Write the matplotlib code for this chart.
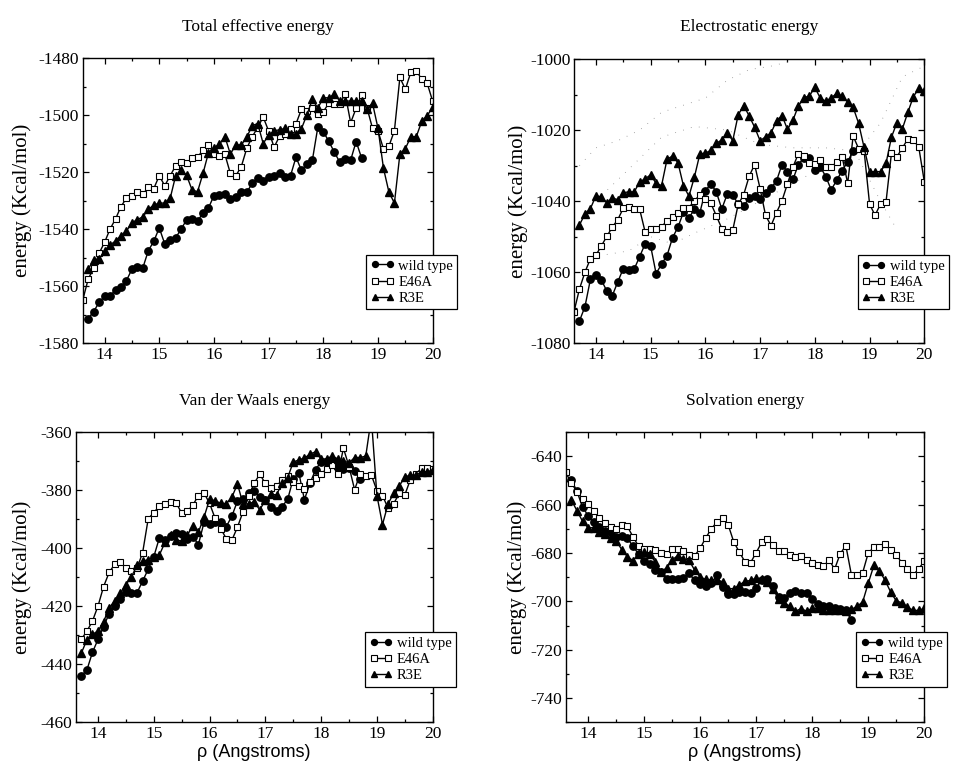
import numpy as np
import matplotlib
matplotlib.use("Agg")
import matplotlib.pyplot as plt
from matplotlib.ticker import MultipleLocator

plt.rcParams['font.family'] = ['Liberation Serif', 'DejaVu Serif']
plt.rcParams['axes.unicode_minus'] = False

# rho grids (Angstroms)
rho_wt = np.arange(137, 188) / 10.0      # 13.7 .. 18.7
rho_mut = np.arange(137, 201) / 10.0     # 13.7 .. 20.0
rho_e46a = np.arange(136, 201) / 10.0    # 13.6 .. 20.0

# Total effective energy
tot_wt = [-1571.3, -1568.9, -1565.6, -1563.5, -1563.3, -1561.4, -1560.2, -1558.0, -1554.0, -1553.3,
          -1553.5, -1547.5, -1544.2, -1539.5, -1545.1, -1543.9, -1543.0, -1539.9, -1536.7, -1536.5,
          -1537.2, -1534.2, -1532.5, -1528.2, -1528.0, -1527.7, -1529.5, -1528.8, -1527.0, -1527.0,
          -1523.9, -1521.9, -1523.0, -1521.5, -1521.3, -1520.4, -1521.8, -1521.2, -1514.7, -1519.3,
          -1517.0, -1515.7, -1504.1, -1505.8, -1509.1, -1512.9, -1516.4, -1515.2, -1515.7, -1509.2,
          -1515.0]
tot_e46a = [-1564.9, -1557.5, -1553.6, -1548.4, -1544.6, -1539.9, -1536.4, -1532.0, -1529.1, -1528.4,
            -1526.8, -1527.7, -1525.3, -1525.7, -1521.2, -1524.7, -1521.2, -1517.7, -1516.3, -1516.8,
            -1515.1, -1514.6, -1512.3, -1510.3, -1513.6, -1514.3, -1513.7, -1520.4, -1521.2, -1518.0,
            -1511.6, -1507.5, -1504.3, -1500.6, -1505.5, -1511.2, -1507.3, -1506.4, -1504.7, -1503.0,
            -1497.9, -1498.4, -1497.3, -1499.4, -1498.7, -1495.8, -1495.9, -1496.2, -1492.5, -1502.6,
            -1497.5, -1492.9, -1497.5, -1504.6, -1505.5, -1511.8, -1510.8, -1505.4, -1486.7, -1490.9,
            -1484.9, -1484.3, -1487.4, -1488.8, -1495.1]
tot_r3e = [-1554.0, -1550.8, -1550.5, -1547.5, -1545.5, -1544.1, -1542.2, -1540.6, -1537.7, -1536.6,
           -1535.6, -1533.0, -1531.5, -1530.8, -1530.8, -1529.1, -1521.2, -1519.3, -1521.1, -1526.2,
           -1526.8, -1520.4, -1513.1, -1511.3, -1510.2, -1507.5, -1513.6, -1510.4, -1510.4, -1507.7,
           -1503.6, -1502.9, -1509.9, -1507.0, -1505.4, -1505.1, -1504.6, -1506.7, -1506.6, -1504.7,
           -1499.8, -1494.4, -1497.5, -1493.8, -1493.9, -1492.6, -1494.9, -1495.0, -1495.0, -1495.0,
           -1495.0, -1497.8, -1495.8, -1504.6, -1518.6, -1527.0, -1530.8, -1513.6, -1511.7, -1507.5,
           -1507.5, -1502.1, -1500.1, -1497.2]

# Electrostatic energy
ele_wt = [-1073.7, -1069.7, -1062.0, -1060.8, -1062.2, -1065.3, -1066.6, -1062.7, -1059.0, -1059.5,
          -1059.1, -1055.6, -1052.0, -1052.6, -1060.4, -1057.7, -1055.3, -1050.3, -1047.3, -1043.1,
          -1044.7, -1042.3, -1043.2, -1037.1, -1035.1, -1037.4, -1042.2, -1038.0, -1038.3, -1040.8,
          -1041.3, -1039.2, -1038.6, -1039.5, -1037.8, -1036.3, -1034.3, -1029.7, -1031.8, -1033.9,
          -1029.7, -1027.8, -1027.8, -1031.2, -1030.3, -1033.1, -1036.8, -1034.1, -1031.4, -1028.9,
          -1025.8]
ele_e46a = [-1071.1, -1064.7, -1060.0, -1056.2, -1055.2, -1052.6, -1049.9, -1047.3, -1045.2, -1042.0,
            -1041.7, -1042.1, -1042.3, -1048.7, -1047.9, -1047.7, -1047.2, -1045.5, -1044.5, -1043.2,
            -1041.9, -1041.8, -1039.9, -1038.2, -1039.5, -1040.6, -1044.1, -1047.7, -1048.7, -1048.2,
            -1040.9, -1038.2, -1033.0, -1029.7, -1036.5, -1044.0, -1046.9, -1043.2, -1039.9, -1035.1,
            -1030.4, -1026.6, -1027.3, -1029.2, -1029.5, -1028.5, -1030.4, -1030.4, -1029.0, -1027.6,
            -1035.0, -1021.7, -1025.2, -1025.8, -1040.8, -1044.0, -1040.8, -1040.3, -1026.5, -1027.5,
            -1025.0, -1022.5, -1022.7, -1024.9, -1034.5]
ele_r3e = [-1046.7, -1043.6, -1042.1, -1038.5, -1038.8, -1040.5, -1039.1, -1039.6, -1037.6, -1037.4,
           -1037.4, -1034.6, -1033.7, -1032.6, -1035.0, -1035.6, -1028.2, -1027.3, -1029.2, -1035.7,
           -1038.6, -1033.2, -1026.7, -1026.5, -1025.7, -1023.7, -1022.8, -1020.7, -1023.0, -1015.7,
           -1013.1, -1016.0, -1019.2, -1023.0, -1021.9, -1020.8, -1017.4, -1015.9, -1019.8, -1017.2,
           -1013.2, -1010.9, -1010.4, -1008.0, -1011.0, -1011.9, -1010.9, -1009.7, -1010.5, -1012.1,
           -1013.6, -1018.1, -1024.9, -1031.7, -1031.7, -1031.7, -1029.4, -1022.0, -1017.9, -1019.6,
           -1015.0, -1010.6, -1008.3, -1009.1]
# faint dotted traces in the electrostatic panel
dot_x1 = [13.7, 14.0, 14.4, 14.8, 15.2, 15.6, 16.0, 16.4, 16.8, 17.2, 17.6]
dot_y1 = [-1030, -1025, -1023, -1020, -1015, -1013, -1011, -1006, -1003, -1002, -1000.5]
dot_x2 = [14.0, 14.6, 15.2, 15.8, 16.4, 17.0, 17.6, 18.2, 18.8, 19.2, 19.6, 20.0]
dot_y2 = [-1040, -1031, -1022, -1019, -1020, -1024, -1025, -1025, -1026, -1018, -1005, -1002]
dot_x3 = [14.2, 14.6, 15.0, 15.4, 15.8, 16.4, 17.0, 17.6, 18.2, 18.8, 19.2, 19.5]
dot_y3 = [-1055, -1054, -1050, -1052, -1049, -1045, -1040, -1035, -1030, -1028, -1040, -1048]

# Van der Waals energy
vdw_wt = [-444.0, -442.0, -435.9, -431.4, -427.0, -422.5, -419.8, -417.6, -415.2, -415.5,
          -415.3, -411.3, -407.2, -402.9, -396.4, -397.1, -395.6, -394.8, -395.1, -396.8,
          -396.0, -398.7, -391.1, -391.7, -391.1, -391.0, -392.5, -388.9, -383.7, -382.9,
          -381.1, -380.2, -382.2, -383.2, -385.6, -387.2, -385.6, -383.1, -376.0, -374.0,
          -383.2, -377.6, -372.9, -370.1, -370.1, -369.9, -371.8, -372.8, -372.4, -373.3,
          -376.1]
vdw_e46a = [-431.4, -428.6, -425.1, -419.9, -413.2, -408.3, -405.5, -404.7, -406.7, -407.8,
            -406.8, -401.5, -389.8, -387.7, -385.4, -384.7, -384.1, -384.3, -387.9, -387.2,
            -385.1, -381.8, -380.9, -384.5, -389.7, -393.2, -396.7, -397.2, -392.7, -387.4,
            -382.0, -377.5, -374.5, -377.6, -379.3, -378.6, -376.4, -375.1, -377.1, -378.4,
            -379.4, -377.2, -375.7, -374.3, -372.6, -371.3, -374.5, -365.5, -371.8, -379.8,
            -374.3, -375.2, -374.7, -380.1, -381.8, -386.2, -384.6, -381.1, -381.6, -376.3,
            -374.4, -372.3, -372.3, -372.8]
vdw_r3e = [-436.2, -431.6, -429.7, -428.5, -425.3, -420.5, -418.2, -415.5, -412.5, -409.8,
           -405.9, -404.4, -404.0, -402.9, -402.3, -398.0, -395.5, -397.1, -397.5, -395.4,
           -392.4, -394.4, -389.3, -383.1, -383.6, -384.5, -384.6, -382.4, -377.8, -384.7,
           -384.7, -383.9, -386.8, -383.3, -381.4, -381.6, -377.5, -375.6, -370.3, -369.5,
           -368.9, -367.5, -366.7, -369.3, -369.1, -368.2, -369.2, -369.9, -370.5, -368.7,
           -368.7, -368.2, -355.0, -381.8, -391.8, -384.7, -381.0, -378.5, -375.5, -374.7,
           -374.8, -373.6, -373.6, -373.0]

# Solvation energy
sol_wt = [-649.6, -654.4, -660.9, -664.5, -667.1, -669.3, -670.8, -671.4, -673.3, -673.0,
          -673.8, -677.1, -680.4, -683.2, -684.3, -686.9, -687.9, -690.8, -690.6, -690.8,
          -690.1, -688.3, -691.3, -692.8, -693.7, -692.3, -689.2, -694.1, -697.0, -696.8,
          -696.0, -696.1, -696.5, -694.5, -691.0, -690.5, -693.4, -698.0, -698.7, -696.5,
          -695.6, -696.4, -696.5, -699.1, -701.2, -702.0, -702.0, -702.6, -703.1, -703.7,
          -707.8]
sol_e46a = [-646.6, -650.9, -654.6, -657.6, -659.7, -662.4, -665.6, -667.6, -669.3, -670.0,
            -668.5, -668.9, -673.2, -677.1, -678.4, -678.4, -678.8, -679.8, -680.4, -678.2,
            -678.1, -679.2, -680.7, -681.1, -678.0, -673.6, -670.0, -667.0, -665.6, -668.3,
            -675.4, -679.6, -683.6, -683.9, -679.8, -675.4, -674.3, -676.6, -679.1, -679.1,
            -680.6, -681.4, -681.3, -682.9, -684.0, -684.8, -685.5, -682.8, -686.6, -680.2,
            -676.9, -689.1, -689.1, -688.1, -679.9, -677.6, -677.6, -676.3, -678.8, -680.7,
            -684.0, -686.5, -689.1, -686.5, -683.3]
sol_r3e = [-658.0, -662.4, -666.8, -669.5, -669.5, -671.1, -672.0, -673.6, -674.9, -678.5,
           -681.4, -683.1, -680.2, -679.6, -680.3, -683.7, -687.6, -686.2, -682.8, -681.0,
           -682.5, -682.9, -687.0, -689.9, -690.9, -691.2, -691.0, -691.9, -694.7, -694.7,
           -693.1, -691.7, -691.3, -690.3, -690.9, -692.1, -694.7, -699.1, -700.7, -701.9,
           -704.0, -703.0, -704.0, -702.9, -702.9, -703.4, -703.5, -703.4, -703.5, -704.0,
           -703.3, -702.0, -700.2, -692.4, -685.1, -687.3, -691.3, -696.1, -699.8, -700.5,
           -702.3, -703.7, -703.7, -702.9]

titles = ['Total effective energy', 'Electrostatic energy',
          'Van der Waals energy', 'Solvation energy']
labels = ['wild type', 'E46A', 'R3E']

W, H = 955, 762
fig = plt.figure(figsize=(W / 100, H / 100), dpi=100)

def box(l, t, r, b):
    return [l / W, 1 - b / H, (r - l) / W, (b - t) / H]

panels = [
    dict(rect=box(82.7, 58.3, 432.7, 343.3), ylim=(-1580, -1480),
         data=(tot_wt, tot_e46a, tot_r3e), xe=rho_e46a, ylx=-0.145, xlab=False),
    dict(rect=box(574, 59, 924.3, 343.3), ylim=(-1080, -1000),
         data=(ele_wt, ele_e46a, ele_r3e), xe=rho_e46a, ylx=-0.131, xlab=False),
    dict(rect=box(75.7, 432.3, 432.7, 722.3), ylim=(-460, -360),
         data=(vdw_wt, vdw_e46a, vdw_r3e), xe=rho_mut, ylx=-0.122, xlab=True),
    dict(rect=box(565.7, 432.3, 924.3, 722.3), ylim=(-750, -630),
         data=(sol_wt, sol_e46a, sol_r3e), xe=rho_e46a, ylx=-0.108, xlab=True),
]

for i, p in enumerate(panels):
    ax = fig.add_axes(p['rect'])
    wt, e46a, r3e = p['data']
    if i == 1:
        for dx, dy in [(dot_x1, dot_y1), (dot_x2, dot_y2), (dot_x3, dot_y3)]:
            ax.plot(dx, dy, color='0.45', lw=0.6, ls=(0, (0.8, 9)))
    ax.plot(rho_wt, wt, '-o', color='black', lw=1.0, ms=5.3, label=labels[0])
    ax.plot(p['xe'], e46a, '-s', color='black', mfc='white', mec='black',
            mew=0.8, lw=1.0, ms=4.8, label=labels[1])
    ax.plot(rho_mut, r3e, '-^', color='black', lw=1.0, ms=5.6, label=labels[2])

    ax.set_xlim(13.6, 20.0)
    ax.set_ylim(*p['ylim'])
    ax.xaxis.set_major_locator(MultipleLocator(1))
    ax.xaxis.set_minor_locator(MultipleLocator(0.5))
    ax.yaxis.set_major_locator(MultipleLocator(20))
    ax.yaxis.set_minor_locator(MultipleLocator(10))
    ax.tick_params(which='both', direction='in', top=True, right=True,
                   labelsize=12.5, width=0.9)
    ax.tick_params(which='major', length=4.5, pad=2.5)
    ax.tick_params(which='minor', length=2.5)
    for s in ax.spines.values():
        s.set_linewidth(1.0)

    ax.set_title(titles[i], fontsize=12.5, pad=20)
    ax.set_ylabel('energy (Kcal/mol)', fontsize=15)
    ax.yaxis.set_label_coords(p['ylx'], 0.5)
    if p['xlab']:
        ax.set_xlabel('ρ (Angstroms)', fontsize=13,
                      family=['Liberation Sans', 'DejaVu Sans'])
        ax.xaxis.set_label_coords(0.5, -0.075)

    leg = ax.legend(loc='upper left', bbox_to_anchor=(0.81, 0.31),
                    borderaxespad=0, numpoints=2, handlelength=1.6,
                    markerscale=0.8, handletextpad=0.3, labelspacing=0.2,
                    borderpad=0.3, fontsize=10.5, fancybox=False, framealpha=1)
    leg.get_frame().set_edgecolor('black')
    leg.get_frame().set_linewidth(0.9)

fig.savefig('out.png', dpi=100)
